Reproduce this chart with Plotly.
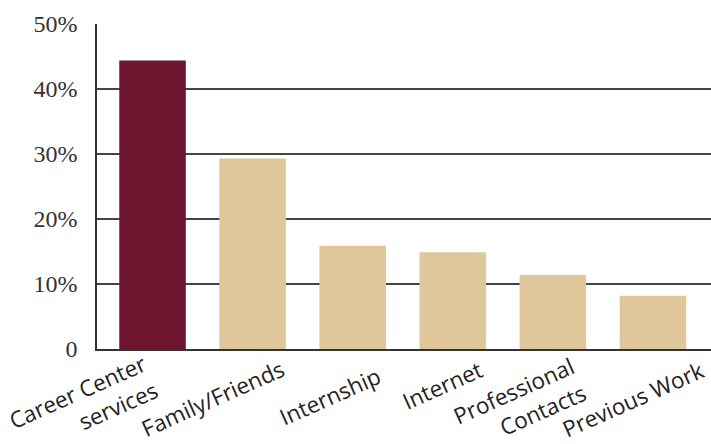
import plotly.graph_objects as go

categories = ["Career Center<br>services", "Family/Friends", "Internship", "Internet",
              "Professional<br>Contacts", "Previous Work"]
values = [44.4, 29.3, 15.9, 14.9, 11.4, 8.2]
colors = ["#6E1530", "#DFC799", "#DFC799", "#DFC799", "#DFC799", "#DFC799"]
tick_vals = [0, 10, 20, 30, 40, 50]
tick_text = ["0", "10%", "20%", "30%", "40%", "50%"]

# pixel offsets of each rotated category label (layout only)
label_dx = [-69, -40, -23, -11, -33, -20]
label_dy = [-56, -49, -47, -36, -55, -50]

xs = list(range(len(categories)))
fig = go.Figure(go.Bar(x=xs, y=values,
                       marker=dict(color=colors, line=dict(width=0)),
                       width=0.665, hoverinfo="skip"))

for i, lab in enumerate(categories):
    fig.add_annotation(x=xs[i], y=0, xref="x", yref="y", text=lab,
                       showarrow=False, textangle=-24, align="right",
                       xanchor="center", yanchor="middle",
                       xshift=label_dx[i], yshift=label_dy[i],
                       font=dict(family="Open Sans", size=22.5, color="#222"))

fig.update_layout(
    width=711, height=444,
    margin=dict(l=97, r=0, t=24, b=95),
    plot_bgcolor="white", paper_bgcolor="white",
    showlegend=False,
)
fig.update_xaxes(
    range=[-0.555, 5.58],
    showticklabels=False,
    showgrid=False, zeroline=False,
    showline=True, linecolor="#333", linewidth=2,
    ticks="", automargin=False,
)
fig.update_yaxes(
    range=[0, 50],
    tickvals=tick_vals, ticktext=tick_text,
    tickfont=dict(family="Liberation Serif", size=24, color="#333"),
    ticklabelstandoff=13,
    showgrid=True, gridcolor="#444", gridwidth=1.5,
    zeroline=False,
    showline=True, linecolor="#333", linewidth=1.5,
    ticks="", automargin=False,
)

fig.write_html("out.html", config={"displayModeBar": False},
               post_script="document.body.style.margin='0';")
